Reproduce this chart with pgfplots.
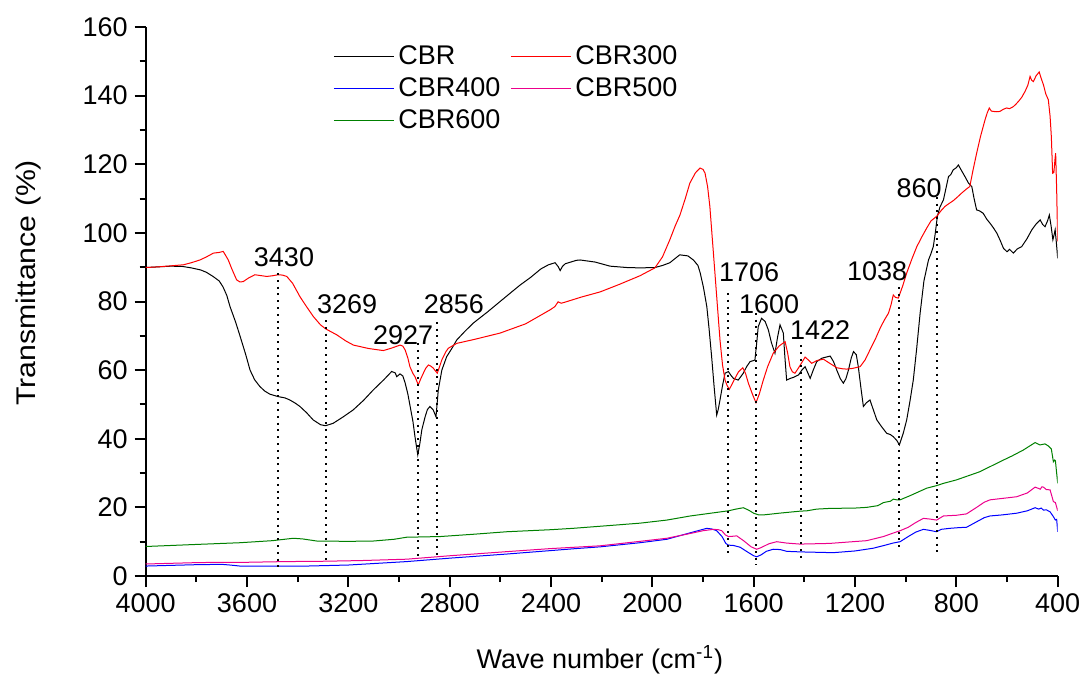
\documentclass[border=0pt]{standalone}
\usepackage{graphicx}
\usepackage{pgfplots}
\pgfplotsset{compat=1.18}
\usepackage{fontspec}
\setmainfont{Liberation Sans}
\definecolor{cgreen}{RGB}{0,128,0}
\begin{document}
\begin{tikzpicture}
\newcommand{\fs}{\fontsize{13.5}{16}\selectfont}
\begin{axis}[
  name=ax,
  scale only axis, width=456pt, height=274.5pt,
  x dir=reverse, xmin=400, xmax=4000, ymin=0, ymax=160,
  xtick={400,800,...,4000}, ytick={0,20,...,160},
  minor x tick num=1, minor y tick num=1,
  axis x line*=bottom, axis y line*=left,
  axis line style={-, line width=1pt},
  tick style={black, line width=1pt},
  major tick length=5.5pt, minor tick length=3pt,
  tick align=outside,
  /pgf/number format/assume math mode=true,
  /pgf/number format/set thousands separator={},
  ticklabel style={font=\fs},
  xlabel={Wave number (cm\textsuperscript{-1})},
  ylabel={\scalebox{1.12}[1]{Transmittance (\%)}},
  label style={font=\fs},
  xlabel style={at={(axis description cs:0.498,-0.153)}, anchor=center},
  ylabel style={at={(axis description cs:-0.129,0.534)}, anchor=center, rotate=0},
  legend columns=2,
  legend cell align=left,
  legend style={draw=none, fill=none, at={(0.2054,0.974)}, anchor=north west, inner sep=0pt, font=\fs, row sep=1pt,
     /tikz/every even column/.append style={column sep=3pt}},
  legend image code/.code={\draw[#1] (0pt,0pt) -- (30pt,0pt);},
  every axis plot/.append style={line width=0.5pt},
]
\addplot[black] coordinates {(4000,89.9)(3950,90.1)(3900,90.3)(3853,90.2)(3820,89.8)(3783,89.2)(3760,88.5)(3734,87.3)(3710,86.0)(3695,84.3)(3680,81.8)(3667,78.5)(3645,74)(3627,69.8)(3605,64.5)(3588,60)(3570,57.2)(3549,55.2)(3530,53.9)(3510,53)(3478,52.3)(3450,51.9)(3431,51.3)(3410,50.4)(3391,49.4)(3365,47.6)(3339,45.5)(3310,44.1)(3290,43.8)(3260,44.5)(3220,46.4)(3181,48.4)(3140,51.2)(3102,54.2)(3060,57.2)(3029,59.6)(3015,59.2)(3009,58.1)(2996,58.9)(2985,58.3)(2976,56.3)(2965,53)(2956,49.4)(2945,45)(2937,40.6)(2926,35.3)(2918,38.5)(2910,42.6)(2897,46.4)(2888,48.5)(2878,49.4)(2865,48.4)(2854,46.4)(2845,54.2)(2831,60)(2812,63.9)(2790,66.5)(2772,68.8)(2740,71.3)(2707,73.7)(2650,77)(2601,80)(2560,82.5)(2522,84.8)(2481,87)(2440,89.5)(2410,90.7)(2384,91.3)(2372,90.2)(2364,89)(2355,90.2)(2344,91)(2300,92)(2285,92.1)(2226,91.5)(2167,90.3)(2100,89.9)(2049,89.8)(1990,89.9)(1960,90.5)(1931,91.3)(1892,93.6)(1860,93.3)(1838,92.1)(1820,90.5)(1811,88.3)(1798,84)(1785,78.5)(1776,72)(1766,63.9)(1756,55)(1746,46.9)(1740,48.5)(1733,51.3)(1723,55.5)(1713,59.1)(1700,59.6)(1690,58.5)(1680,57.6)(1661,57.1)(1641,59.1)(1628,61)(1614,62.5)(1600,62.8)(1595,63)(1588,68)(1582,72.7)(1569,75.1)(1555,74.2)(1542,71.7)(1530,68)(1516,64.9)(1506,69.5)(1496,73.2)(1483,70.8)(1477,64)(1470,57.1)(1455,57.6)(1443,57.9)(1423,58.6)(1410,60)(1397,61)(1388,59.5)(1377,57.6)(1365,60)(1351,62.5)(1330,63.5)(1298,64.1)(1285,62.5)(1272,60)(1258,57.5)(1246,56.2)(1236,57.5)(1226,60)(1215,63.5)(1206,65.4)(1195,64.5)(1187,61)(1177,55)(1167,49.4)(1155,50.5)(1141,51.3)(1128,48.5)(1114,45.5)(1095,43.5)(1075,41.6)(1060,41.2)(1049,40.6)(1035,39.5)(1025,38.2)(1010,41.5)(996,45.5)(983,51)(970,57.1)(957,66)(943,76.6)(928,86)(910,92.1)(900,94)(891,96)(883,100)(875,104.8)(865,107.5)(851,109.6)(841,113)(831,116.4)(822,117)(812,118.4)(800,119)(792,119.8)(780,118.2)(766,116.4)(752,114.5)(739,113.5)(730,110)(720,106.7)(708,106.4)(694,105.7)(680,104)(667,102.8)(654,101.5)(640,99.9)(627,97.8)(614,95.5)(600,94.5)(590,95.2)(575,94.1)(560,95.3)(542,96)(522,98.2)(502,100.9)(485,102.6)(469,103.8)(460,102.5)(450,101.8)(440,103.5)(433,105.2)(426,102)(419,98)(414,99.5)(410,100.9)(405,97)(400,92.6)};
\addlegendentry{CBR}
\addplot[red] coordinates {(4000,89.9)(3950,90.1)(3900,90.4)(3851,90.7)(3820,91.3)(3786,92.1)(3760,93)(3733,94.1)(3710,94.3)(3694,94.6)(3685,93.5)(3674,92.1)(3660,89.5)(3641,86.3)(3628,85.7)(3615,85.8)(3595,86.8)(3569,87.8)(3550,87.6)(3522,87.3)(3500,87.5)(3477,87.8)(3460,87.7)(3443,87.3)(3420,85.3)(3391,81.4)(3365,78.5)(3338,75.6)(3310,73.2)(3289,72)(3246,70.3)(3210,68.5)(3180,67.3)(3120,66.3)(3062,65.7)(3030,66.4)(2996,67.3)(2985,67)(2976,65.9)(2965,63.5)(2957,61)(2945,59)(2937,58.1)(2924,55.7)(2914,57.5)(2904,59.1)(2895,60.5)(2884,61.5)(2875,61.2)(2865,60.6)(2849,59.1)(2840,61)(2831,63)(2815,65.4)(2805,66.4)(2772,67.8)(2700,69)(2601,70.8)(2500,73.5)(2403,77.6)(2385,78.5)(2372,79.9)(2360,79.5)(2345,79.8)(2280,81.3)(2206,82.8)(2130,85)(2049,87.5)(1990,89.8)(1960,93)(1931,98)(1910,102)(1891,105.2)(1870,110)(1852,114.5)(1830,117.5)(1812,118.9)(1800,118.5)(1792,117.4)(1782,113.5)(1773,107.7)(1763,98)(1753,88.3)(1743,78.5)(1733,68.8)(1723,61.5)(1713,57.1)(1705,55.5)(1696,54.4)(1685,56)(1674,57.6)(1660,59.5)(1643,60.7)(1632,59)(1621,56.2)(1605,53)(1591,50.5)(1578,53)(1562,57.1)(1545,61)(1523,64.9)(1500,67)(1476,68.3)(1466,65)(1457,61)(1447,59.5)(1437,59.1)(1420,61)(1397,63.8)(1385,63)(1371,62)(1350,62.8)(1325,63.2)(1300,62)(1272,60.7)(1250,60.4)(1233,60.3)(1210,60.5)(1180,61)(1160,63)(1141,65.9)(1120,69)(1101,72.2)(1085,74.5)(1068,76.6)(1058,79)(1049,81.9)(1040,81.2)(1029,81)(1012,84.5)(996,88.3)(975,92.5)(956,96)(935,99)(917,101.4)(900,103.5)(878,104.8)(860,106.5)(845,107.7)(830,108.5)(812,109.4)(795,110.5)(779,111.6)(760,112.8)(747,113.5)(735,118)(720,123.2)(705,128)(687,132.9)(678,135)(670,136.4)(662,135.5)(654,135.4)(640,135.3)(628,135.4)(615,136)(602,136.4)(590,136.2)(575,136.8)(565,137.5)(555,138.3)(542,139.5)(529,141.2)(518,143)(509,145.6)(503,144.5)(496,144.1)(485,145.8)(473,146.9)(465,145)(456,143.1)(447,140.5)(437,138.8)(430,134)(425,128)(420,117.4)(415,117.6)(410,122)(408,123.2)(404,112.5)(400,97.5)};
\addlegendentry{CBR300}
\addplot[blue] coordinates {(4000,2.9)(3800,3.3)(3700,3.4)(3667,3.2)(3628,2.9)(3500,2.9)(3364,2.9)(3200,3.2)(2970,4.2)(2800,5.2)(2575,6.4)(2300,8.0)(2206,8.5)(2049,9.7)(1943,10.7)(1850,12.6)(1800,13.6)(1785,13.9)(1765,13.7)(1746,13.2)(1725,11.5)(1710,9.5)(1700,9)(1680,8.9)(1654,8.4)(1620,6.8)(1600,5.9)(1588,5.6)(1570,6.2)(1550,7.2)(1523,7.8)(1495,7.7)(1470,7.2)(1443,7.1)(1400,7)(1286,6.8)(1200,7.3)(1128,8.1)(1080,9)(1050,9.6)(1022,10)(990,11.5)(960,12.8)(930,13.6)(905,13.3)(878,12.9)(860,13.6)(825,13.9)(790,14.1)(760,14.2)(720,15.8)(690,17)(667,17.5)(620,17.8)(562,18.3)(520,19)(489,19.9)(475,19.5)(465,19.8)(456,19.2)(445,19.3)(430,18.7)(417,17.3)(409,16.3)(404,16.5)(400,12.9)};
\addlegendentry{CBR400}
\addplot[magenta] coordinates {(4000,3.5)(3800,3.9)(3700,4.0)(3600,4.0)(3450,4.2)(3300,4.3)(3150,4.5)(2970,4.9)(2800,5.9)(2575,7.1)(2400,8)(2206,8.8)(2049,10.1)(1943,11)(1850,12.4)(1800,13.2)(1759,13.6)(1740,13.5)(1726,13.2)(1712,12)(1700,11.5)(1680,11.6)(1667,11.7)(1640,10.3)(1610,8.5)(1588,7.8)(1570,8.3)(1540,9.4)(1509,10)(1470,9.6)(1417,9.3)(1300,9.5)(1154,10.3)(1088,11.5)(1050,12.5)(1022,13.2)(990,14.2)(960,15.6)(930,16.8)(905,16.6)(878,16.3)(851,17.5)(800,17.7)(760,18.1)(720,20)(690,21.5)(667,22.2)(620,22.6)(562,23.1)(520,24.2)(489,25.9)(475,25.5)(469,25.3)(462,26)(456,25.9)(445,25.2)(430,25.1)(417,21.7)(409,21.4)(400,19)};
\addlegendentry{CBR500}
\addplot[cgreen] coordinates {(4000,8.6)(3800,9.2)(3628,9.7)(3500,10.3)(3417,11)(3380,10.8)(3325,10.2)(3200,10.1)(3101,10.2)(3020,10.7)(2970,11.3)(2838,11.5)(2700,12.2)(2575,12.9)(2400,13.5)(2312,13.9)(2206,14.5)(2049,15.4)(1943,16.3)(1850,17.5)(1750,18.5)(1700,19)(1670,19.5)(1641,19.9)(1620,19.2)(1600,18.3)(1580,17.8)(1562,17.8)(1500,18.3)(1417,18.9)(1390,19)(1351,19.5)(1300,19.7)(1200,19.8)(1154,20)(1110,20.5)(1088,21.4)(1060,21.8)(1049,22.4)(1035,22.2)(1022,22.2)(980,23.5)(917,25.6)(880,26.3)(851,27)(800,28)(707,30.4)(628,33.3)(580,35)(536,36.7)(489,38.9)(470,38.2)(450,38.5)(437,37.9)(425,37)(417,33.3)(412,33.8)(409,33.6)(400,27)};
\addlegendentry{CBR600}
% dotted peak markers
\pgfplotsset{every axis plot/.append style={forget plot}}
\addplot[black, line width=1pt, dash pattern=on 1pt off 2.4pt] coordinates {(3478,88.3)(3478,1.7)};
\addplot[black, line width=1pt, dash pattern=on 1pt off 2.4pt] coordinates {(3289,74.6)(3289,3.8)};
\addplot[black, line width=1pt, dash pattern=on 1pt off 2.4pt] coordinates {(2926,67.9)(2926,4.7)};
\addplot[black, line width=1pt, dash pattern=on 1pt off 2.4pt] coordinates {(2851,74.1)(2851,5.5)};
\addplot[black, line width=1pt, dash pattern=on 1pt off 2.4pt] coordinates {(1700,82.5)(1700,5.5)};
\addplot[black, line width=1pt, dash pattern=on 1pt off 2.4pt] coordinates {(1591,76.7)(1591,3.2)};
\addplot[black, line width=1pt, dash pattern=on 1pt off 2.4pt] coordinates {(1414,67.3)(1414,4.1)};
\addplot[black, line width=1pt, dash pattern=on 1pt off 2.4pt] coordinates {(1025,84.3)(1025,7.6)};
\addplot[black, line width=1pt, dash pattern=on 1pt off 2.4pt] coordinates {(876,110.5)(876,6.7)};
\node[font=\fs, inner sep=0pt] at (axis cs:3454,93.0) {3430};
\node[font=\fs, inner sep=0pt] at (axis cs:3205,79.3) {3269};
\node[font=\fs, inner sep=0pt] at (axis cs:2984,70.3) {2927};
\node[font=\fs, inner sep=0pt] at (axis cs:2783,79.3) {2856};
\node[font=\fs, inner sep=0pt] at (axis cs:1618,88.6) {1706};
\node[font=\fs, inner sep=0pt] at (axis cs:1539,79.3) {1600};
\node[font=\fs, inner sep=0pt] at (axis cs:1338,71.7) {1422};
\node[font=\fs, inner sep=0pt] at (axis cs:1113,88.9) {1038};
\node[font=\fs, inner sep=0pt] at (axis cs:947,113.1) {860};
\end{axis}
\pgfresetboundingbox
\path[use as bounding box] (-72.85pt,-53pt) rectangle (471.15pt,288pt);
\end{tikzpicture}
\end{document}
